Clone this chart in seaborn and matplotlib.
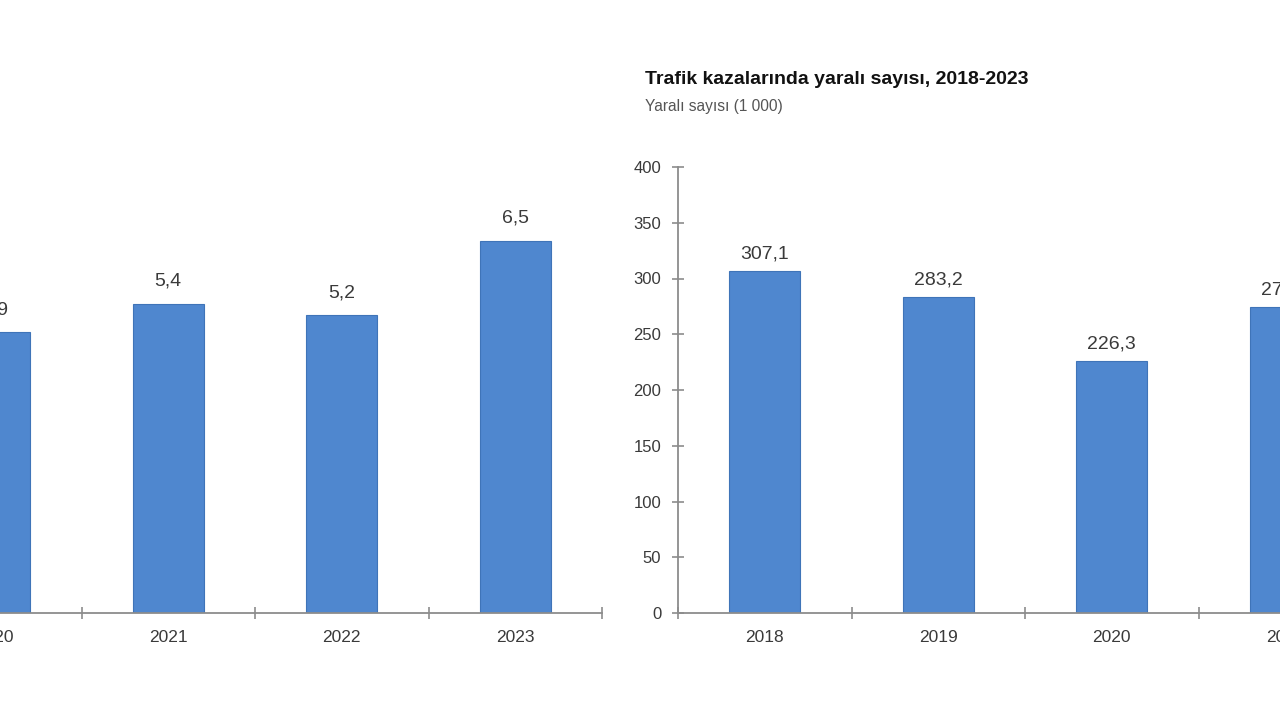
import matplotlib
matplotlib.use("Agg")
import matplotlib.pyplot as plt
import seaborn as sns
import pandas as pd

years = ["2018", "2019", "2020", "2021", "2022", "2023"]
deaths = [6.7, 5.5, 4.9, 5.4, 5.2, 6.5]           # olu sayisi (1 000)
injured = [307.1, 283.2, 226.3, 274.6, 286.9, 347.1]  # yarali sayisi (1 000)
y_ticks = [0, 50, 100, 150, 200, 250, 300, 350, 400]

BAR = "#4f87cf"
AXIS = "#8c8c8c"
TXT = "#3a3a3a"

sns.set_theme(style="white")
plt.rcParams["font.family"] = ["Liberation Sans", "DejaVu Sans"]

fig = plt.figure(figsize=(12.8, 7.2), dpi=100)
W, H = 1280, 720

# both panels are wider than the visible frame; they get cut at the edges
ax_l = fig.add_axes([-439 / W, (H - 613) / H, 1041 / W, 458 / H])
ax_r = fig.add_axes([678 / W, (H - 613) / H, 1041 / W, 446 / H])


def draw(ax, values, ymax, pad):
    df = pd.DataFrame({"year": years, "value": values})
    sns.barplot(data=df, x="year", y="value", color=BAR, width=0.41,
                saturation=1, edgecolor="#3f74b8", linewidth=0.8, ax=ax)
    ax.set_xlim(-0.5, len(years) - 0.5)
    ax.set_ylim(0, ymax)
    ax.set_xlabel("")
    ax.set_ylabel("")
    labels = [f"{v:.1f}".replace(".", ",") for v in values]
    ax.bar_label(ax.containers[0], labels=labels, padding=pad,
                 fontsize=14, color=TXT)
    for s in ["top", "right"]:
        ax.spines[s].set_visible(False)
    for s in ["left", "bottom"]:
        ax.spines[s].set_color(AXIS)
        ax.spines[s].set_linewidth(1.3)
    ax.set_xticks(range(len(years)))
    ax.set_xticklabels(years)
    ax.set_xticks([i - 0.5 for i in range(len(years) + 1)], minor=True)
    ax.tick_params(axis="x", which="major", length=0, pad=12,
                   labelsize=12.5, labelcolor=TXT)
    ax.tick_params(axis="x", which="minor", length=8, direction="inout",
                   color=AXIS, width=1.2, bottom=True)


draw(ax_l, deaths, 8, 10)
ax_l.set_yticks([])
ax_l.spines["left"].set_visible(False)

draw(ax_r, injured, 400, 6)
ax_r.set_yticks(y_ticks)
ax_r.tick_params(axis="y", length=8, direction="inout", color=AXIS,
                 width=1.2, left=True, pad=8, labelsize=12, labelcolor=TXT)

fig.text(645 / W, 1 - 80 / H, "Trafik kazalarında yaralı sayısı, 2018-2023",
         fontsize=14, fontweight="bold", color="#111111", va="center")
fig.text(645 / W, 1 - 107 / H, "Yaralı sayısı (1 000)",
         fontsize=11.2, color="#555555", va="center")

fig.savefig("out.png", dpi=100)
